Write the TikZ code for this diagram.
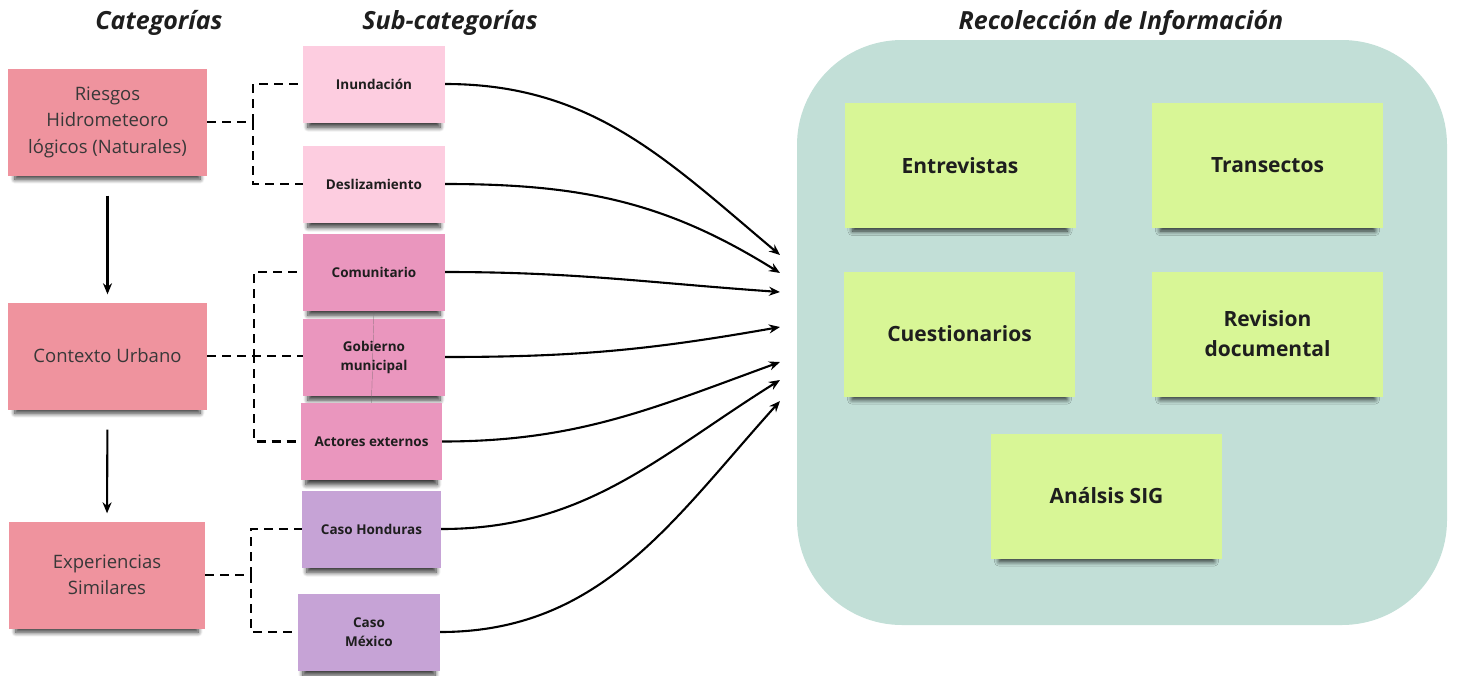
\documentclass[tikz,border=0pt]{standalone}
\usepackage{fontspec}
\setmainfont{Open Sans}
\usetikzlibrary{arrows.meta,shadows.blur}

\definecolor{catpink}{HTML}{EF939E}
\definecolor{lightpink}{HTML}{FDCDE0}
\definecolor{midpink}{HTML}{EA96BE}
\definecolor{lilac}{HTML}{C6A3D6}
\definecolor{lime}{HTML}{D8F696}
\definecolor{tealgrey}{HTML}{C2DFD7}
\definecolor{inkgrey}{HTML}{1E1E1E}

\begin{document}
\begin{tikzpicture}[x=1pt, y=1pt,
  note/.style = {rectangle, inner sep=2pt, align=center, text=inkgrey,
    blur shadow={shadow xshift=0pt, shadow yshift=-8pt, shadow scale=0.93,
      shadow opacity=80, shadow blur steps=8, shadow blur radius=5pt}},
  categoria/.style = {note, fill=catpink, minimum width=199, minimum height=107,
    text=black!78, font=\fontsize{18.5}{26.5}\selectfont},
  subcat/.style = {note, minimum width=142, minimum height=77,
    font=\fontsize{13.5}{19}\selectfont\bfseries},
  metodo/.style = {note, fill=lime, minimum width=231, minimum height=125,
    font=\fontsize{21}{30}\selectfont\bfseries},
  titulo/.style = {text=inkgrey, font=\fontsize{25}{30}\selectfont\bfseries\itshape},
  guion/.style = {dash pattern=on 9pt off 6pt, line width=2.3pt},
  flecha/.style = {line width=2.1pt, -{Stealth[length=11pt,width=9pt]}}]

  \useasboundingbox (0,0) rectangle (1458,-675);

  % titles
  \node[titulo] (tcat) at (159,-23) {Categorías};
  \node[titulo] (tsub) at (450,-23) {Sub-categorías};
  \node[titulo] (trec) at (1121,-23) {Recolección de Información};

  % panel on the right
  \node[rectangle, rounded corners=105pt, fill=tealgrey,
    minimum width=650, minimum height=585] (recoleccion) at (1122,-332.5) {};

  % categories
  \node[categoria] (riesgos) at (107.5,-122) {Riesgos\\Hidrometeoro\\lógicos (Naturales)};
  \node[categoria] (contexto) at (107.5,-356) {Contexto Urbano};
  \node[categoria, minimum width=196] (experiencias) at (107,-575) {Experiencias\\Similares};

  % sub-categories
  \node[subcat, fill=lightpink] (inundacion) at (374,-84) {Inundación};
  \node[subcat, fill=lightpink] (deslizamiento) at (374,-184) {Deslizamiento};
  \node[subcat, fill=midpink] (comunitario) at (374,-272) {Comunitario};
  \node[subcat, fill=midpink] (gobierno) at (374,-357) {Gobierno\\municipal};
  \node[subcat, fill=midpink, minimum width=141] (actores) at (371.5,-441.5) {Actores externos};
  \node[subcat, fill=lilac, minimum width=139] (honduras) at (371.5,-529) {Caso Honduras};
  \node[subcat, fill=lilac] (mexico) at (369,-632) {Caso\\México};

  % methods
  \node[metodo] (entrevistas) at (960,-165.5) {Entrevistas};
  \node[metodo] (transectos) at (1267.5,-165.5) {Transectos};
  \node[metodo] (cuestionarios) at (959.5,-334) {Cuestionarios};
  \node[metodo] (revision) at (1267.5,-334) {Revision\\documental};
  \node[metodo] (sig) at (1106.5,-496) {Análsis SIG};

  % arrow ends at the panel
  \coordinate (t1) at (780,-255);
  \coordinate (t2) at (780,-273);
  \coordinate (t3) at (780,-292);
  \coordinate (t4) at (780,-327);
  \coordinate (t5) at (780,-362);
  \coordinate (t6) at (780,-380);
  \coordinate (t7) at (780,-401);

  % category chain
  \draw[flecha, shorten <=20pt, shorten >=8pt] (riesgos.south) -- (contexto.north);
  \draw[flecha, shorten <=20pt, shorten >=8pt] (contexto.south) -- (experiencias.north);

  % dashed brackets
  \draw[guion] (riesgos.east) -- ++(46,0) |- (inundacion.west);
  \draw[guion] (riesgos.east) -- ++(46,0) |- (deslizamiento.west);
  \draw[guion] (contexto.east) -- ++(47,0) |- (comunitario.west);
  \draw[guion] (contexto.east) -- (gobierno.west |- contexto.east);
  \draw[guion] (contexto.east) -- ++(47,0) |- (actores.west);
  \draw[guion] (experiencias.east) -- ++(46,0) |- (honduras.west);
  \draw[guion] (experiencias.east) -- ++(46,0) |- (mexico.west);

  \draw[very thin, black!60] (comunitario.south) -- (actores.north);

  % curved arrows
  \draw[flecha] (inundacion.east) to[out=0, in=140] (t1);
  \draw[flecha] (deslizamiento.east) to[out=0, in=148] (t2);
  \draw[flecha] (comunitario.east) to[out=0, in=176] (t3);
  \draw[flecha] (gobierno.east) to[out=0, in=190] (t4);
  \draw[flecha] (actores.east) to[out=0, in=200] (t5);
  \draw[flecha] (honduras.east) to[out=0, in=212] (t6);
  \draw[flecha] (mexico.east) to[out=0, in=228] (t7);
\end{tikzpicture}
\end{document}
